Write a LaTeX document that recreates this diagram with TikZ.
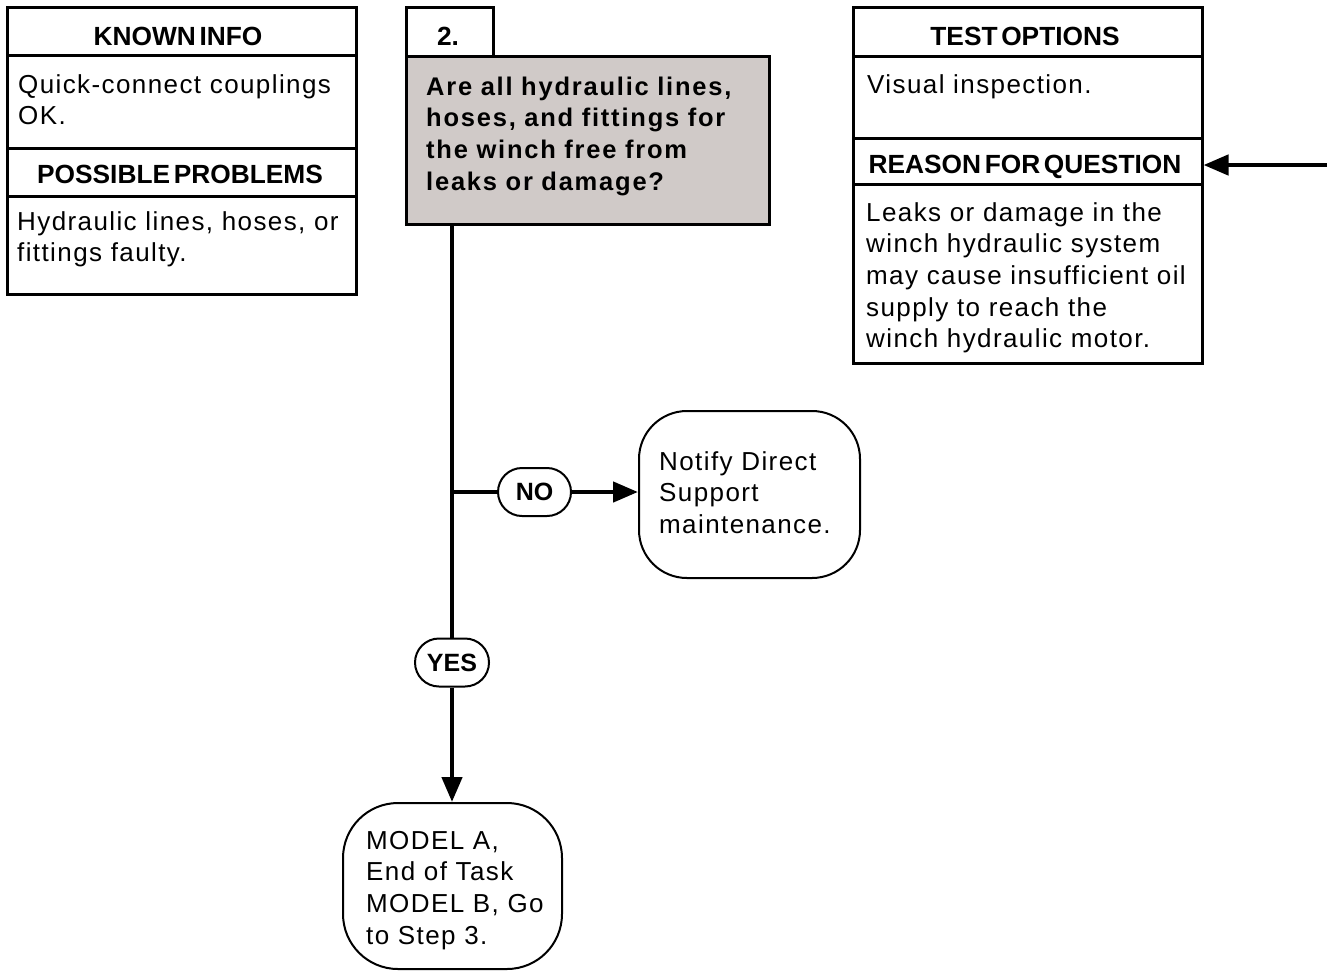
\documentclass[tikz,border=0pt]{standalone}
\usepackage{fontspec}
\usetikzlibrary{arrows.meta}
\newfontfamily\lsbody{Liberation Sans}[LetterSpace=5.4]
\newfontfamily\lsq{Liberation Sans}[LetterSpace=7]
\newfontfamily\lshead{Liberation Sans}[WordSpace=0.5]
\definecolor{qgray}{RGB}{208,202,200}
\tikzset{
  box/.style={draw, line width=2.5pt, inner sep=0pt, anchor=north west},
  headtxt/.style={font=\lshead\bfseries\fontsize{26.3}{30}\selectfont, anchor=base, inner sep=0pt},
  bodytxt/.style={font=\lsbody\fontsize{26}{31.7}\selectfont, anchor=base west, inner sep=0pt, align=left, text width=#1},
  qtxt/.style={font=\lsq\bfseries\fontsize{25.5}{31.7}\selectfont, anchor=base west, inner sep=0pt, align=left, text width=#1},
  conn/.style={line width=4.5pt},
  arr/.style={-{Triangle[length=25pt,width=20pt]}},
  pill/.style={draw, line width=2pt, rounded corners=24pt, minimum height=48pt, inner sep=0pt, font=\lshead\bfseries\fontsize{25}{28}\selectfont},
  endbox/.style={draw, line width=2pt, inner sep=0pt, anchor=north west},
}
\begin{document}
\begin{tikzpicture}[x=1pt,y=-1pt]
\useasboundingbox (0,0) rectangle (1327,970);
% left column
\node[box, minimum width=349pt, minimum height=48pt] (kih) at (6,6) {};
\node[box, minimum width=349pt, minimum height=93pt] (kib) at (6,54) {};
\node[box, minimum width=349pt, minimum height=48pt] (pph) at (6,147) {};
\node[box, minimum width=349pt, minimum height=98pt] (ppb) at (6,195) {};
\node[headtxt] (kiht) at (178,45) {KNOWN INFO};
\node[bodytxt=340pt] (kibt) at (18,93) {\strut Quick-connect couplings\\OK.};
\node[headtxt] (ppht) at (180,183) {POSSIBLE PROBLEMS};
\node[bodytxt=340pt] (ppbt) at (17,230) {\strut Hydraulic lines, hoses, or\\fittings faulty.};
% step box
\node[box, minimum width=87pt, minimum height=49pt] (num) at (405,6) {};
\node[headtxt] (numt) at (448,45) {2.};
\node[box, fill=qgray, minimum width=363pt, minimum height=168pt] (q) at (405,55) {};
\node[qtxt=345pt] (qt) at (426,95) {\strut Are all hydraulic lines,\\hoses, and fittings for\\the winch free from\\leaks or damage?};
% right column
\node[box, minimum width=349pt, minimum height=49pt] (toh) at (852,6) {};
\node[box, minimum width=349pt, minimum height=82pt] (tob) at (852,55) {};
\node[box, minimum width=349pt, minimum height=46pt] (rqh) at (852,137) {};
\node[box, minimum width=349pt, minimum height=179pt] (rqb) at (852,183) {};
\node[headtxt] (toht) at (1025,45) {TEST OPTIONS};
\node[bodytxt=340pt] (tobt) at (867,93) {\strut Visual inspection.};
\node[headtxt] (rqht) at (1025,173) {REASON FOR QUESTION};
\node[bodytxt=340pt] (rqbt) at (866,221) {\strut Leaks or damage in the\\winch hydraulic system\\may cause insufficient oil\\supply to reach the\\winch hydraulic motor.};
\coordinate (inR) at (1327,165);
\draw[conn, arr] (inR) -- (inR -| rqh.east);
% outcomes
\node[pill, minimum width=73pt] (no) at (534.5,492) {NO};
\node[pill, minimum width=74pt] (yes) at (452,662.5) {YES};
\node[endbox, rounded corners=48pt, minimum width=221pt, minimum height=167pt] (notify) at (638,410) {};
\node[bodytxt=210pt] (notifyt) at (659,470) {\strut Notify Direct\\Support\\maintenance.};
\node[endbox, rounded corners=55pt, minimum width=219pt, minimum height=166pt] (model) at (342,802) {};
\node[bodytxt=205pt] (modelt) at (366,849) {\strut MODEL A,\\End of Task\\MODEL B, Go\\to Step 3.};
% connectors
\draw[conn] (yes.north |- q.south) -- (yes.north);
\draw[conn] (yes.north |- no.west) -- (no.west);
\draw[conn, arr] (no.east) -- (notify.west |- no.east);
\draw[conn, arr] (yes.south) -- (yes.south |- model.north);
\end{tikzpicture}
\end{document}
